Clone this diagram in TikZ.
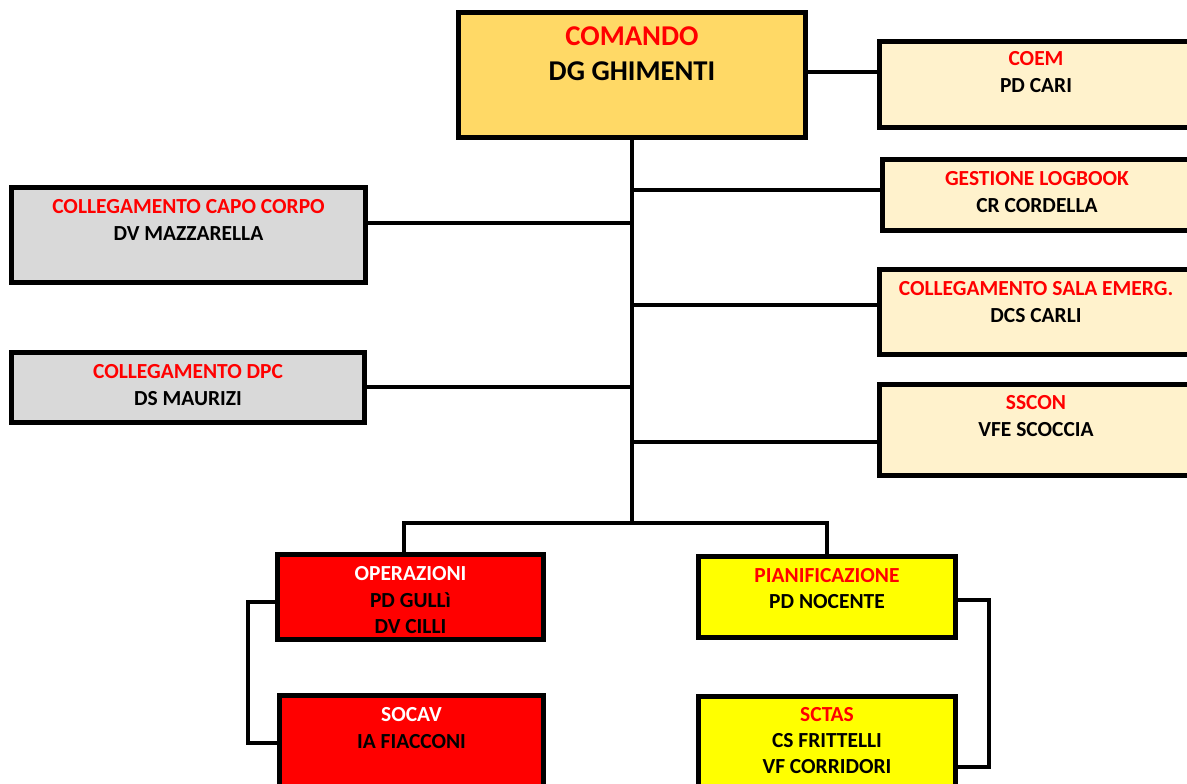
\documentclass[tikz,border=0pt]{standalone}
\usepackage{fontspec}
\setmainfont{Carlito}
\definecolor{gold}{HTML}{FFD966}
\definecolor{cream}{HTML}{FFF2CC}
\definecolor{greyb}{HTML}{D9D9D9}
\definecolor{redb}{HTML}{FF0000}
\definecolor{yellowb}{HTML}{FFFF00}
\tikzset{
  box/.style={draw=black, line width=3.6pt, inner sep=0pt},
  conn/.style={draw=black, line width=3.2pt},
  lbl/.style={anchor=base, inner sep=0pt, font=\fontsize{16.1pt}{19pt}\selectfont\bfseries},
  biglbl/.style={anchor=base, inner sep=0pt, font=\fontsize{21.5pt}{25pt}\selectfont\bfseries},
  ttl/.style={lbl, text=redb},
  nm/.style={lbl, text=black},
}
\begin{document}
\begin{tikzpicture}[x=0.75pt, y=-0.75pt]
\clip (0,0) rectangle (1187,783);
\fill[white] (0,0) rectangle (1187,783);
% boxes
\node[box, fill=gold, minimum width=347.5*0.75pt, minimum height=125.5*0.75pt] (cmd) at (632,75) {};
\node[box, fill=cream, minimum width=313.5*0.75pt, minimum height=86.5*0.75pt] (coem) at (1036,84.5) {};
\node[box, fill=cream, minimum width=309.5*0.75pt, minimum height=71.5*0.75pt] (logb) at (1037,195) {};
\node[box, fill=cream, minimum width=313.5*0.75pt, minimum height=85.5*0.75pt] (sala) at (1036,312) {};
\node[box, fill=cream, minimum width=313.5*0.75pt, minimum height=91.5*0.75pt] (sscon) at (1036,430) {};
\node[box, fill=greyb, minimum width=354.5*0.75pt, minimum height=95.5*0.75pt] (capo) at (188.5,235) {};
\node[box, fill=greyb, minimum width=353.5*0.75pt, minimum height=70.5*0.75pt] (dpc) at (188,387.5) {};
\node[box, fill=redb, minimum width=266.5*0.75pt, minimum height=85.5*0.75pt] (ops) at (410.5,597) {};
\node[box, fill=redb, minimum width=264.5*0.75pt, minimum height=97.5*0.75pt] (socav) at (411.5,744) {};
\node[box, fill=yellowb, minimum width=257.5*0.75pt, minimum height=81.5*0.75pt] (pian) at (827,597) {};
\node[box, fill=yellowb, minimum width=257.5*0.75pt, minimum height=96.5*0.75pt] (sctas) at (827,744.5) {};
% junction coordinates
\coordinate (jcoem) at (632,72);
\coordinate (jlogb) at (632,190);
\coordinate (jcapo) at (632,223);
\coordinate (jsala) at (632,305);
\coordinate (jdpc) at (632,387);
\coordinate (jsscon) at (632,442);
\coordinate (bar) at (632,523);
\coordinate (bl) at (404,523);
\coordinate (br) at (827,523);
\coordinate (opsout) at (248,602);
\coordinate (socin) at (248,743);
\coordinate (pianout) at (989,600);
\coordinate (sctin) at (989,767);
% connectors
\draw[conn] (cmd.south) -- (bar);
\draw[conn] (jcoem -| cmd.east) -- (jcoem -| coem.west);
\draw[conn] (jlogb) -- (jlogb -| logb.west);
\draw[conn] (jsala) -- (jsala -| sala.west);
\draw[conn] (jsscon) -- (jsscon -| sscon.west);
\draw[conn] (jcapo) -- (jcapo -| capo.east);
\draw[conn] (jdpc) -- (jdpc -| dpc.east);
\draw[conn] (bl |- ops.north) -- (bl) -- (br) -- (br |- pian.north);
\draw[conn] (opsout -| ops.west) -- (opsout) -- (socin) -- (socin -| socav.west);
\draw[conn] (pianout -| pian.east) -- (pianout) -- (sctin) -- (sctin -| sctas.east);
% texts
\node[biglbl, text=redb] (cmdt) at (632,45) {COMANDO};
\node[biglbl, text=black] (cmdn) at (632,80) {DG GHIMENTI};
\node[ttl] (coemt) at (1036,65) {COEM};
\node[nm] (coemn) at (1036,92) {PD CARI};
\node[ttl] (logbt) at (1037,185) {GESTIONE LOGBOOK};
\node[nm] (logbn) at (1037,212) {CR CORDELLA};
\node[ttl] (salat) at (1036,295) {COLLEGAMENTO SALA EMERG.};
\node[nm] (salan) at (1036,322) {DCS CARLI};
\node[ttl] (ssct) at (1036,409) {SSCON};
\node[nm] (sscn) at (1036,436) {VFE SCOCCIA};
\node[ttl] (capot) at (188.5,213) {COLLEGAMENTO CAPO CORPO};
\node[nm] (capon) at (188.5,240) {DV MAZZARELLA};
\node[ttl] (dpct) at (188,378) {COLLEGAMENTO DPC};
\node[nm] (dpcn) at (188,405) {DS MAURIZI};
\node[lbl, text=white] (opst) at (410.5,580) {OPERAZIONI};
\node[nm] (opsn1) at (410.5,607) {PD GULLì};
\node[nm] (opsn2) at (410.5,633) {DV CILLI};
\node[lbl, text=white] (soct) at (411.5,721) {SOCAV};
\node[nm] (socn) at (411.5,748) {IA FIACCONI};
\node[ttl] (piant) at (827,582) {PIANIFICAZIONE};
\node[nm] (pjann) at (827,608) {PD NOCENTE};
\node[ttl] (sctt) at (827,721) {SCTAS};
\node[nm] (sctn1) at (827,747) {CS FRITTELLI};
\node[nm] (sctn2) at (827,773) {VF CORRIDORI};
\end{tikzpicture}
\end{document}
